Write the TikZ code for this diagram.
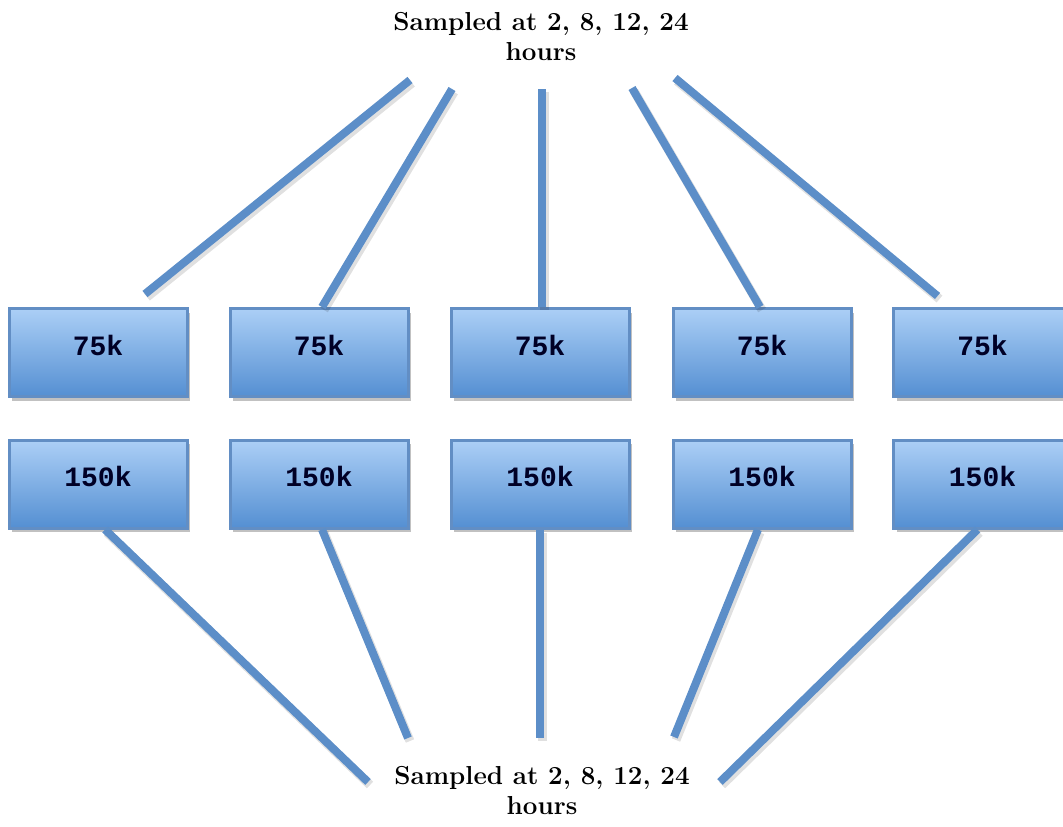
\documentclass[tikz,border=0pt]{standalone}
\usepackage{fontspec}
\newfontfamily\boxfont{Liberation Mono}
\usetikzlibrary{shadows,calc}
\definecolor{boxtop}{RGB}{172,207,246}
\definecolor{boxbot}{RGB}{84,143,210}
\definecolor{boxedge}{RGB}{98,142,196}
\definecolor{linkblue}{RGB}{92,142,200}
\tikzset{
  sbox/.style={rectangle, minimum width=178pt, minimum height=88pt, inner sep=0pt,
    draw=boxedge, line width=3pt, top color=boxtop, bottom color=boxbot,
    drop shadow={shadow xshift=3pt, shadow yshift=-4pt, opacity=.35, fill=black!70},
    text height=17.4pt, text depth=12pt,
    font=\boxfont\bfseries\fontsize{28}{30}\selectfont, text=black!85!blue},
  lbl/.style={align=center, font=\bfseries\fontsize{26}{30}\selectfont, text=black},
  link/.style={draw=linkblue, line width=8pt},
  linkshadow/.style={draw=black, opacity=.12, line width=9pt, transform canvas={shift={(2pt,-3pt)}}}
}
\begin{document}
\begin{tikzpicture}[x=1pt,y=-1pt]
\useasboundingbox (0,0) rectangle (1063,827);
\node[lbl] (top) at (541,37) {Sampled at 2, 8, 12, 24\\hours};
\node[lbl] (bot) at (542,790) {Sampled at 2, 8, 12, 24\\hours};
\foreach \i/\x in {1/98,2/319,3/540,4/762,5/982.5}{
  \node[sbox] (a\i) at (\x,352.5) {75k};
  \node[sbox] (b\i) at (\x,484) {150k};
}
\coordinate (t1) at (410,80);
\coordinate (t2) at (452,89);
\coordinate (t3) at (542,89);
\coordinate (t4) at (632,88);
\coordinate (t5) at (675,78);
\coordinate (u1) at (368,782);
\coordinate (u2) at (408,738);
\coordinate (u3) at (540,738);
\coordinate (u4) at (674,737);
\coordinate (u5) at (720,782);
\foreach \s in {linkshadow,link}{
  \draw[\s] (t1) -- ([xshift=47pt,yshift=13pt]a1.north);
  \draw[\s] (t2) -- ([xshift=3pt]a2.north);
  \draw[\s] (t3) -- ([xshift=2pt]a3.north);
  \draw[\s] (t4) -- ([xshift=-2pt]a4.north);
  \draw[\s] (t5) -- ([xshift=-45pt,yshift=11pt]a5.north);
  \draw[\s] ([xshift=7pt]b1.south) -- (u1);
  \draw[\s] ([xshift=3pt]b2.south) -- (u2);
  \draw[\s] (b3.south) -- (u3);
  \draw[\s] ([xshift=-4pt]b4.south) -- (u4);
  \draw[\s] ([xshift=-5pt]b5.south) -- (u5);
}
\end{tikzpicture}
\end{document}
